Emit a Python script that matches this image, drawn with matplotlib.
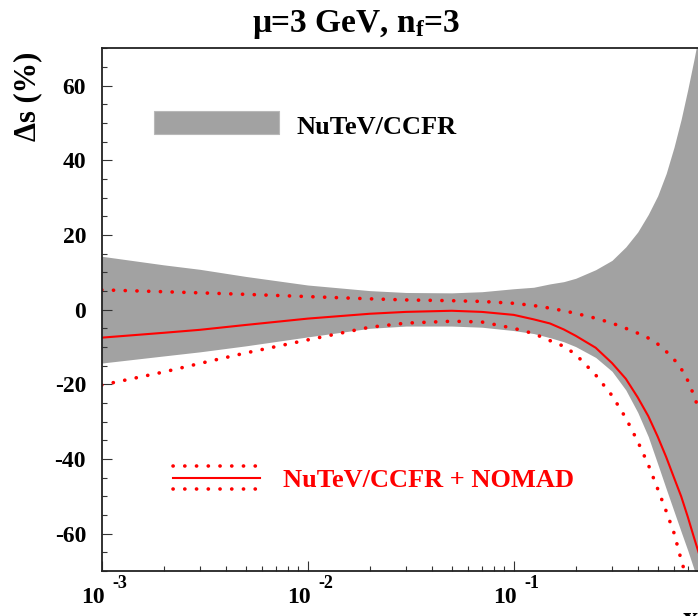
import matplotlib
matplotlib.use("Agg")
import matplotlib.pyplot as plt
from matplotlib import transforms as mtrans
from matplotlib.ticker import LogLocator, MultipleLocator, NullFormatter

# Strange-sea asymmetry uncertainty versus x at mu = 3 GeV
x = [0.001, 0.002, 0.003, 0.005, 0.01, 0.02, 0.03, 0.05, 0.07, 0.1, 0.125, 0.15, 0.175,
     0.2, 0.25, 0.3, 0.35, 0.4, 0.45, 0.5, 0.55, 0.6, 0.65, 0.7, 0.75, 0.8]
band_hi = [14.3, 12.0, 10.8, 8.9, 6.6, 5.1, 4.6, 4.5, 4.8, 5.6, 6.0, 6.9, 7.5,
           8.4, 10.7, 13.2, 16.8, 20.8, 25.5, 30.5, 36.5, 43.5, 51.0, 59.0, 67.0, 75.0]
band_lo = [-14.3, -12.4, -11.3, -9.7, -7.3, -5.0, -4.4, -4.4, -4.7, -5.6, -6.4, -7.5, -8.6,
           -9.9, -12.8, -16.5, -21.5, -27.5, -34.0, -41.3, -48.0, -54.0, -59.5, -64.5, -69.5, -74.0]
central = [-7.5, -6.2, -5.4, -4.1, -2.4, -1.1, -0.6, -0.3, -0.6, -1.4, -2.6, -3.7, -5.3,
           -7.0, -10.2, -14.3, -18.5, -23.5, -28.5, -34.0, -39.5, -45.0, -50.0, -55.5, -61.0, -66.0]
nomad_hi = [5.3, 4.8, 4.5, 4.1, 3.5, 2.9, 2.6, 2.4, 2.2, 1.7, 1.1, 0.4, -0.3,
            -1.0, -2.3, -3.6, -5.0, -6.3, -7.6, -9.2, -11.2, -13.3, -15.8, -19.0, -23.0, -27.5]
nomad_lo = [-20.2, -16.7, -14.4, -11.6, -8.1, -4.7, -3.6, -3.1, -3.3, -5.0, -6.4, -8.3, -9.8,
            -12.0, -17.5, -23.0, -29.0, -35.3, -41.5, -48.0, -54.0, -59.8, -67.0, -73.0, -80.0, -86.0]

y_ticks = [-60, -40, -20, 0, 20, 40, 60]
y_ticklabels = ["-60", "-40", "-20", "0", "20", "40", "60"]
x_ticks = [1e-3, 1e-2, 1e-1]
x_exponents = ["-3", "-2", "-1"]

title = "\u03bc=3 GeV, n$_{\\mathregular{f}}$=3"
ylabel = "\u0394s (%)"
label_band = "NuTeV/CCFR"
label_nomad = "NuTeV/CCFR + NOMAD"

plt.rcParams["font.family"] = ["Liberation Serif", "DejaVu Serif"]
plt.rcParams["font.weight"] = "bold"
plt.rcParams["mathtext.fontset"] = "custom"
plt.rcParams["mathtext.rm"] = "Liberation Serif:bold"
plt.rcParams["mathtext.it"] = "Liberation Serif:bold"
plt.rcParams["mathtext.bf"] = "Liberation Serif:bold"

W, H = 698, 616
fig = plt.figure(figsize=(W / 100, H / 100), dpi=100)
fig.patch.set_facecolor("white")

# frame in pixels: left 101.7, right 719.7 (runs past the canvas), top 48.3, bottom 571
ax_l, ax_r, ax_t, ax_b = 101.7, 719.7, 48.3, 571.0
ax = fig.add_axes([ax_l / W, (H - ax_b) / H, (ax_r - ax_l) / W, (ax_b - ax_t) / H])

gray = "#a2a2a2"
red = "#ff0000"

ax.fill_between(x, band_lo, band_hi, color=gray, lw=0, zorder=1)
ax.plot(x, central, color=red, lw=1.5, zorder=3)
dot_style = dict(color=red, lw=2.6, linestyle=(0, (0.05, 3.2)), dash_capstyle="round", zorder=3)
ax.plot(x, nomad_hi, **dot_style)
ax.plot(x, nomad_lo, **dot_style)

ax.set_xscale("log")
ax.set_xlim(1e-3, 1.0)
ax.set_ylim(-70, 70)

for side in ["left", "right", "top", "bottom"]:
    ax.spines[side].set_linewidth(1.3)
    ax.spines[side].set_color("#222222")
    ax.spines[side].set_zorder(5)

ax.set_yticks(y_ticks)
ax.set_yticklabels(y_ticklabels)
ax.yaxis.set_minor_locator(MultipleLocator(5))
ax.set_xticks(x_ticks)
ax.xaxis.set_minor_locator(LogLocator(base=10, subs=range(2, 10)))
ax.xaxis.set_major_formatter(NullFormatter())
ax.xaxis.set_minor_formatter(NullFormatter())
ax.tick_params(axis="both", which="major", direction="in", length=7.2, width=0.8,
               color="#333333", top=False, right=False)
ax.tick_params(axis="both", which="minor", direction="in", length=3.6, width=0.8,
               color="#333333", top=False, right=False)
ax.tick_params(axis="y", which="major", labelsize=17, pad=11.3)
for lab in ax.get_yticklabels():
    lab.set_fontweight("bold")

# x tick labels written as "10" with a raised exponent
base_tr = mtrans.blended_transform_factory(ax.transData, ax.transAxes)
for xv, ex in zip(x_ticks, x_exponents):
    t10 = mtrans.offset_copy(base_tr, fig=fig, x=3.3, y=-32, units="dots")
    tex = mtrans.offset_copy(base_tr, fig=fig, x=11.0, y=-17, units="dots")
    ax.text(xv, 0, "10", transform=t10, ha="right", va="baseline",
            fontsize=17, fontweight="bold", clip_on=False)
    ax.text(xv, 0, ex, transform=tex, ha="left", va="baseline",
            fontsize=13, fontweight="bold", clip_on=False)

fig.text(683 / W, 1 - 606 / H, "x", ha="left", va="top", fontsize=22, fontweight="bold")

fig.text(356 / W, 1 - 32 / H, title, ha="center", va="baseline", fontsize=24, fontweight="bold")
fig.text(28 / W, 1 - 52 / H, ylabel, rotation=90, ha="center", va="top", fontsize=22, fontweight="bold")

# legend entries drawn in axes coordinates
def ax_px(px, py):
    return (px - ax_l) / (ax_r - ax_l), (ax_b - py) / (ax_b - ax_t)

bx0, by0 = ax_px(154, 134)
bx1, by1 = ax_px(279.3, 111)
ax.add_patch(plt.Rectangle((bx0, by0), bx1 - bx0, by1 - by0, transform=ax.transAxes,
                           facecolor=gray, edgecolor="#b8b8b8", lw=0.8, zorder=4))
tx, ty = ax_px(296.7, 124.5)
ax.text(tx, ty, label_band, transform=ax.transAxes, ha="left", va="center_baseline",
        fontsize=19, fontweight="bold", color="black")

lx0, _ = ax_px(173.3, 0)
lx1, _ = ax_px(261.5, 0)
for py, style in [(465.7, "dot"), (477.7, "solid"), (489.3, "dot")]:
    _, yy = ax_px(0, py)
    if style == "solid":
        ax.plot([lx0, lx1 - 0.002], [yy, yy], transform=ax.transAxes, color=red, lw=1.5, zorder=4)
    else:
        ax.plot([lx0, lx1], [yy, yy], transform=ax.transAxes, **dot_style)
tx, ty = ax_px(283.3, 478)
ax.text(tx, ty, label_nomad, transform=ax.transAxes, ha="left", va="center_baseline",
        fontsize=19, fontweight="bold", color=red)

fig.savefig("out.png", dpi=100)
